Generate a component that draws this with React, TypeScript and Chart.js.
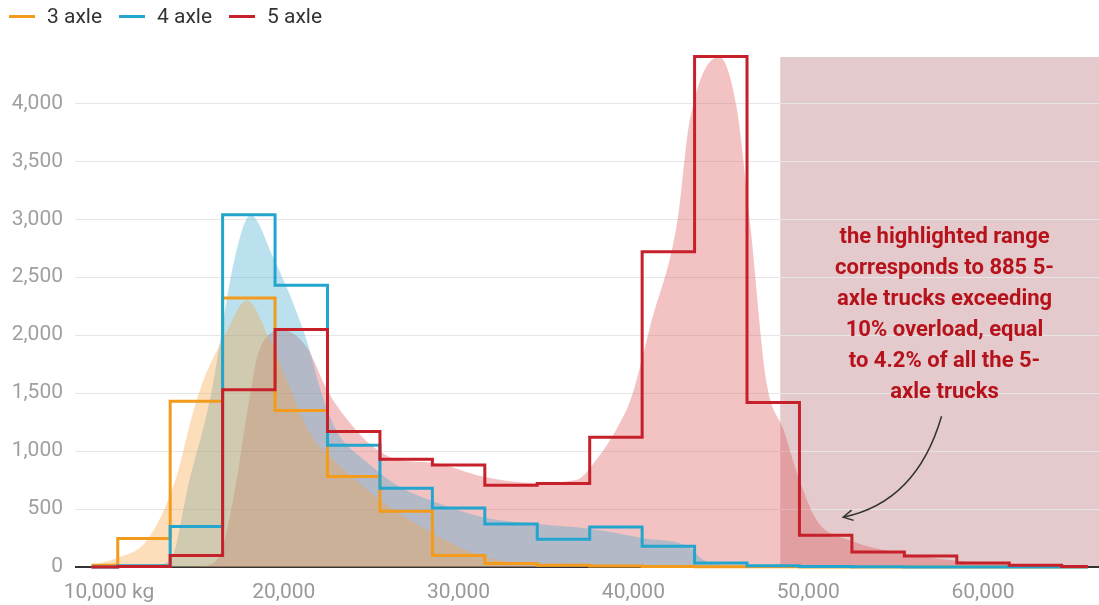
import React, { useEffect, useRef } from 'react';
import { Chart, registerables } from 'chart.js';

Chart.register(...registerables);

// Histogram bins (centre of each 3,000 kg bin)
const binCentersKg = [9000, 12000, 15000, 18000, 21000, 24000, 27000, 30000, 33000, 36000, 39000, 42000, 45000, 48000, 51000, 54000, 57000, 60000, 63000, 66000];
const axle3Counts = [15, 245, 1430, 2320, 1350, 780, 480, 100, 30, 15, 8, 5, 3, 2, 0, 0, 0, 0, 0, 0];
const axle4Counts = [0, 10, 350, 3040, 2430, 1050, 680, 510, 370, 240, 345, 180, 35, 10, 5, 3, 0, 0, 0, 0];
const axle5Counts = [0, 5, 100, 1530, 2050, 1170, 930, 880, 705, 720, 1120, 2720, 4405, 1420, 275, 130, 95, 35, 15, 5];

// Smoothed distributions
const axle3DensityKg = [9000, 10500, 12200, 13800, 14800, 15400, 16500, 17900, 19200, 20400, 21500, 23000, 24500, 26000, 27500, 29000, 30500, 32000, 34000, 36000];
const axle3Density = [15, 80, 235, 750, 1330, 1610, 1960, 2300, 1960, 1530, 1150, 900, 700, 520, 380, 250, 140, 70, 25, 5];
const axle4DensityKg = [12000, 13500, 14600, 15800, 17200, 18100, 19400, 21300, 22100, 23000, 24800, 26650, 28500, 31400, 34500, 37500, 40500, 43200, 44000, 45500, 47000];
const axle4Density = [0, 60, 750, 1465, 2670, 3035, 2670, 1960, 1530, 1180, 900, 690, 570, 430, 370, 330, 250, 170, 60, 10, 0];
const axle5DensityKg = [14500, 15800, 16500, 17300, 17900, 18600, 19950, 21300, 22500, 23800, 25000, 26650, 28500, 31400, 34200, 36700, 38000, 39000, 39900, 41000, 42500, 43200, 44900, 45900, 46700, 47600, 48600, 49500, 50500, 52400, 55200, 58100, 62000, 66000];
const axle5Density = [0, 20, 170, 750, 1330, 1870, 2040, 1900, 1520, 1240, 1050, 920, 900, 780, 725, 750, 950, 1180, 1470, 2100, 2970, 3830, 4400, 3970, 2930, 1610, 1180, 750, 400, 230, 120, 60, 17, 0];

const seriesLabels = ['3 axle', '4 axle', '5 axle'];
const xTickValues = [10000, 20000, 30000, 40000, 50000, 60000];
const xTickLabels = ['10,000 kg', '20,000', '30,000', '40,000', '50,000', '60,000'];
const yTickValues = [0, 500, 1000, 1500, 2000, 2500, 3000, 3500, 4000];
const overloadThresholdKg = 48400;
const annotationLines = [
  'the highlighted range',
  'corresponds to 885 5-',
  'axle trucks exceeding',
  '10% overload, equal',
  'to 4.2% of all the 5-',
  'axle trucks',
];

const lineColors = ['#f29b1d', '#24a5cd', '#c6212b'];
const fillColors = ['rgba(245,160,60,0.35)', 'rgba(60,170,210,0.35)', 'rgba(220,80,80,0.35)'];

const toPoints = (xs: number[], ys: number[]) => xs.map((x, i) => ({ x, y: ys[i] }));

const highlightPlugin = {
  id: 'highlight',
  beforeDraw(chart: any) {
    const { ctx, chartArea, scales } = chart;
    const x0 = scales.x.getPixelForValue(overloadThresholdKg);
    ctx.save();
    ctx.fillStyle = '#e4cacc';
    ctx.fillRect(x0, chartArea.top, chartArea.right - x0, chartArea.bottom - chartArea.top);
    ctx.restore();
  },
};

const annotationPlugin = {
  id: 'note',
  afterDatasetsDraw(chart: any) {
    const { ctx, scales } = chart;
    const cx = scales.x.getPixelForValue(57800);
    const top = scales.y.getPixelForValue(2845);
    ctx.save();
    ctx.font = 'bold 22px Roboto';
    ctx.fillStyle = '#b5121b';
    ctx.textAlign = 'center';
    ctx.textBaseline = 'middle';
    annotationLines.forEach((t, i) => ctx.fillText(t, cx, top + i * 31));
    // arrow
    const p0 = { x: cx - 3, y: top + 179 };
    const p2 = { x: scales.x.getPixelForValue(52000), y: scales.y.getPixelForValue(430) };
    const p1 = { x: p0.x - 25, y: p0.y + 86 };
    ctx.strokeStyle = '#333';
    ctx.lineWidth = 1.5;
    ctx.beginPath();
    ctx.moveTo(p0.x, p0.y);
    ctx.quadraticCurveTo(p1.x, p1.y, p2.x, p2.y);
    ctx.stroke();
    const ang = Math.atan2(p2.y - p1.y, p2.x - p1.x);
    const len = 11;
    ctx.beginPath();
    ctx.moveTo(p2.x - len * Math.cos(ang - 0.5), p2.y - len * Math.sin(ang - 0.5));
    ctx.lineTo(p2.x, p2.y);
    ctx.lineTo(p2.x - len * Math.cos(ang + 0.5), p2.y - len * Math.sin(ang + 0.5));
    ctx.stroke();
    ctx.restore();
  },
};

export default function App() {
  const ref = useRef<HTMLCanvasElement>(null);
  useEffect(() => {
    document.body.style.margin = '0';
    const canvas = ref.current!;
    const stepSeries = [axle3Counts, axle4Counts, axle5Counts];
    const densityX = [axle3DensityKg, axle4DensityKg, axle5DensityKg];
    const densityY = [axle3Density, axle4Density, axle5Density];
    const stepDatasets = [2, 1, 0].map((i) => ({
      label: seriesLabels[i],
      data: toPoints(binCentersKg, stepSeries[i]),
      borderColor: lineColors[i],
      backgroundColor: lineColors[i],
      borderWidth: 3,
      stepped: 'middle' as const,
      pointRadius: 0,
      fill: false,
      clip: false,
      order: 0,
    }));
    const densityDatasets = [0, 1, 2].map((i) => ({
      label: seriesLabels[i] + ' density',
      data: toPoints(densityX[i], densityY[i]),
      borderWidth: 0,
      borderColor: 'rgba(0,0,0,0)',
      backgroundColor: fillColors[i],
      fill: 'origin',
      cubicInterpolationMode: 'monotone' as const,
      pointRadius: 0,
      order: 1,
    }));
    const chart = new Chart(canvas, {
      type: 'line',
      data: { datasets: [...stepDatasets, ...densityDatasets] as any },
      options: {
        animation: false,
        responsive: false,
        devicePixelRatio: 1,
        layout: { padding: { top: 57, right: 0, bottom: 0, left: 0 } },
        plugins: { legend: { display: false }, tooltip: { enabled: false } },
        scales: {
          x: {
            type: 'linear',
            min: 8055,
            max: 66636,
            afterBuildTicks: (axis: any) => {
              axis.ticks = xTickValues.map((v) => ({ value: v }));
            },
            afterFit: (axis: any) => {
              axis.height = 38;
            },
            ticks: {
              callback: (_v: any, i: number) => xTickLabels[i],
              font: { family: 'Roboto', size: 21 },
              color: '#999',
              padding: 5,
              maxRotation: 0,
              autoSkip: false,
            },
            grid: { display: false },
            border: { display: false },
          },
          y: {
            min: 0,
            max: 4400,
            afterBuildTicks: (axis: any) => {
              axis.ticks = yTickValues.map((v) => ({ value: v }));
            },
            afterFit: (axis: any) => {
              axis.width = 75;
            },
            ticks: {
              callback: (v: any) => Number(v).toLocaleString('en-US'),
              font: { family: 'Roboto', size: 21 },
              color: '#a0a0a0',
              padding: 12,
            },
            grid: {
              drawTicks: false,
              color: (c: any) => (c.tick && c.tick.value === 0 ? '#333' : '#e6e6e6'),
              lineWidth: (c: any) => (c.tick && c.tick.value === 0 ? 2 : 1),
            },
            border: { display: false },
          },
        },
      },
      plugins: [highlightPlugin, annotationPlugin],
    });
    return () => chart.destroy();
  }, []);

  const legendLefts = [9, 119, 229];
  return (
    <div style={{ position: 'relative', width: 1099, height: 605, fontFamily: 'Roboto', background: '#fff' }}>
      {seriesLabels.map((l, i) => (
        <div key={l} style={{ position: 'absolute', left: legendLefts[i], top: 3, height: 26, display: 'flex', alignItems: 'center' }}>
          <span style={{ display: 'inline-block', width: 26, height: 3, background: lineColors[i], marginRight: 12 }} />
          <span style={{ fontSize: 21, color: '#333', lineHeight: '26px' }}>{l}</span>
        </div>
      ))}
      <canvas ref={ref} width={1099} height={605} style={{ display: 'block' }} />
    </div>
  );
}
